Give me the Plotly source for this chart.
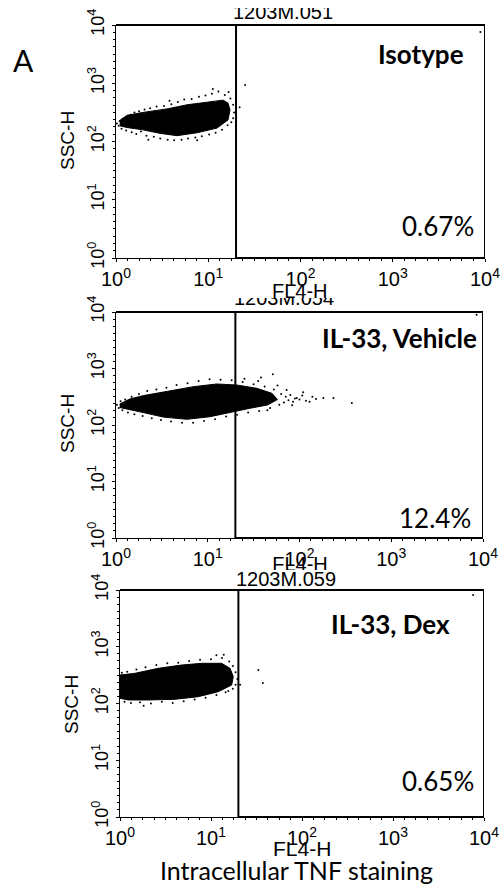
import plotly.graph_objects as go

W, H = 503, 888

# ---------------- data (log10 units of FL4-H / SSC-H) ----------------
gate_fl4 = 20.0  # gate threshold on FL4-H

p1_core_lx = [0.040, 0.120, 0.293, 0.553, 0.770, 0.986, 1.160, 1.214, 1.236, 1.214, 1.095, 0.878, 0.661, 0.477, 0.293, 0.119, 0.040]
p1_core_ly = [2.36, 2.45, 2.50, 2.56, 2.63, 2.68, 2.71, 2.66, 2.54, 2.37, 2.23, 2.15, 2.10, 2.14, 2.20, 2.24, 2.27]
p1_dots = [(0.01, 2.31), (0.03, 2.27), (0.04, 2.35), (0.06, 2.22), (0.07, 2.39), (0.09, 2.30), (0.11, 2.19),
           (0.13, 2.42), (0.16, 2.46), (0.17, 2.16), (0.20, 2.50), (0.22, 2.13), (0.25, 2.52), (0.27, 2.17),
           (0.31, 2.55), (0.33, 2.10), (0.37, 2.57), (0.41, 2.08), (0.44, 2.60), (0.48, 2.05), (0.52, 2.61),
           (0.56, 2.03), (0.60, 2.64), (0.63, 2.02), (0.67, 2.68), (0.71, 2.03), (0.74, 2.72), (0.78, 2.05),
           (0.82, 2.73), (0.86, 2.07), (0.90, 2.77), (0.93, 2.09), (0.97, 2.79), (1.01, 2.12), (1.04, 2.82),
           (1.08, 2.15), (1.11, 2.86), (1.15, 2.20), (1.18, 2.80), (1.21, 2.28), (1.24, 2.74), (1.27, 2.63),
           (1.28, 2.50), (1.27, 2.40), (1.25, 2.33), (0.58, 2.70), (0.35, 2.03), (0.88, 2.02), (1.05, 2.90),
           (1.22, 2.85), (1.34, 2.59), (1.40, 2.97), (3.95, 3.88)]

p2_core_lx = [0.040, 0.150, 0.298, 0.553, 0.843, 1.098, 1.316, 1.534, 1.700, 1.760, 1.650, 1.460, 1.278, 1.025, 0.771, 0.516, 0.298, 0.117, 0.040]
p2_core_ly = [2.37, 2.46, 2.52, 2.60, 2.678, 2.726, 2.708, 2.650, 2.560, 2.450, 2.354, 2.296, 2.235, 2.147, 2.101, 2.140, 2.220, 2.280, 2.310]
p2_dots = [(0.01, 2.36), (0.03, 2.30), (0.05, 2.42), (0.07, 2.26), (0.10, 2.45), (0.13, 2.22), (0.17, 2.50),
           (0.20, 2.19), (0.25, 2.55), (0.29, 2.16), (0.34, 2.60), (0.39, 2.12), (0.44, 2.63), (0.49, 2.09),
           (0.55, 2.66), (0.60, 2.06), (0.66, 2.71), (0.72, 2.04), (0.78, 2.74), (0.84, 2.04), (0.90, 2.78),
           (0.96, 2.07), (1.02, 2.81), (1.08, 2.10), (1.14, 2.80), (1.20, 2.15), (1.26, 2.79), (1.32, 2.18),
           (1.38, 2.76), (1.44, 2.22), (1.50, 2.72), (1.56, 2.25), (1.62, 2.68), (1.68, 2.30), (1.72, 2.63),
           (1.78, 2.36), (1.80, 2.55), (1.83, 2.40), (1.85, 2.50), (1.88, 2.44), (1.90, 2.53), (1.93, 2.41),
           (1.95, 2.47), (1.97, 2.48), (2.00, 2.45), (2.03, 2.52), (2.04, 2.58), (2.07, 2.43), (2.11, 2.41),
           (2.14, 2.50), (2.18, 2.46), (2.26, 2.48), (2.37, 2.48), (2.57, 2.39), (1.71, 2.90), (1.58, 2.84),
           (1.45, 2.33), (1.40, 2.82), (3.93, 3.95), (1.86, 2.62), (1.76, 2.70), (1.92, 2.35), (1.65, 2.26),
           (1.55, 2.78)]

p3_core_lx = [0.0, 0.165, 0.421, 0.678, 0.898, 1.117, 1.209, 1.245, 1.227, 1.080, 0.860, 0.604, 0.311, 0.091, 0.0]
p3_core_ly = [2.502, 2.532, 2.620, 2.678, 2.708, 2.708, 2.620, 2.473, 2.326, 2.208, 2.120, 2.074, 2.062, 2.062, 2.092]
p3_dots = [(0.02, 2.54), (0.05, 2.03), (0.08, 2.56), (0.12, 2.01), (0.18, 2.60), (0.22, 2.02), (0.28, 2.64),
           (0.34, 2.00), (0.40, 2.68), (0.46, 2.03), (0.52, 2.71), (0.58, 2.01), (0.64, 2.72), (0.70, 2.04),
           (0.76, 2.75), (0.82, 2.07), (0.88, 2.77), (0.94, 2.10), (1.00, 2.78), (1.06, 2.15), (1.12, 2.80),
           (1.16, 2.20), (1.20, 2.74), (1.24, 2.66), (1.27, 2.55), (1.29, 2.43), (1.27, 2.33), (1.24, 2.26),
           (1.19, 2.22), (0.26, 1.96), (1.06, 2.85), (1.14, 2.86), (1.32, 2.33), (1.52, 2.59), (1.57, 2.36),
           (3.88, 3.91)]

panel_labels = ["Isotype", "IL-33, Vehicle", "IL-33, Dex"]
panel_pcts = ["0.67%", "12.4%", "0.65%"]
file_names = ["1203M.051", "1203M.054", "1203M.059"]
tick_vals = [1, 10, 100, 1000, 10000]
tick_text = ["10<sup>0</sup>", "10<sup>1</sup>", "10<sup>2</sup>", "10<sup>3</sup>", "10<sup>4</sup>"]
axis_min, axis_max = 1, 10000

# ---------------- layout helpers ----------------
ARIAL = "Liberation Sans, Arial, sans-serif"
CALIBRI = "Lato, Open Sans, sans-serif"

def px(x):
    return x / W

def py(y):
    return 1 - y / H

# minor tick marks along the axes (instrument-style dotted axis)
minor_vals = [10 ** (k / 8) for k in range(1, 32) if k % 8 != 0]

# pixel boxes of the three plot areas: (left, right, top, bottom)
boxes = [(116, 485, 25, 258), (116, 483, 312, 538), (120, 484, 590, 817)]
cores = [(p1_core_lx, p1_core_ly), (p2_core_lx, p2_core_ly), (p3_core_lx, p3_core_ly)]
dots = [p1_dots, p2_dots, p3_dots]

fig = go.Figure()
layout = dict(width=W, height=H, margin=dict(l=0, r=0, t=0, b=0, autoexpand=False),
              paper_bgcolor="white", plot_bgcolor="white", showlegend=False)

annotations = []
shapes = []

for i in range(3):
    sfx = "" if i == 0 else str(i + 1)
    xa, ya = "x" + sfx, "y" + sfx
    l, r, t, b = boxes[i]
    axis_common = dict(type="log", range=[0, 4], showgrid=False, zeroline=False, automargin=False,
                       showline=True, linecolor="black", linewidth=1,
                       ticks="outside", ticklen=3, tickcolor="black", tickwidth=1,
                       tickvals=tick_vals, ticktext=tick_text,
                       minor=dict(ticks="outside", ticklen=2, tickcolor="black", tickvals=minor_vals,
                                  showgrid=False),
                       fixedrange=True)
    layout["xaxis" + sfx] = dict(axis_common, domain=[px(l), px(r)], anchor=ya,
                                 tickfont=dict(family=ARIAL, size=20, color="black"),
                                 tickangle=0, ticklabelstandoff=0)
    layout["yaxis" + sfx] = dict(axis_common, domain=[py(b), py(t)], anchor=xa,
                                 tickfont=dict(family=ARIAL, size=18, color="black"),
                                 tickangle=-90, ticklabelstandoff=1)

    lx, ly = cores[i]
    fig.add_trace(go.Scatter(x=[10 ** v for v in lx], y=[10 ** v for v in ly],
                             mode="lines", fill="toself", fillcolor="black",
                             line=dict(color="black", width=1),
                             xaxis=xa, yaxis=ya, hoverinfo="skip"))
    fig.add_trace(go.Scatter(x=[10 ** d[0] for d in dots[i]], y=[10 ** d[1] for d in dots[i]],
                             mode="markers", marker=dict(color="black", size=2, line=dict(width=0)),
                             xaxis=xa, yaxis=ya, hoverinfo="skip"))

    # top border of the plot
    shapes.append(dict(type="line", xref=xa + " domain", yref=ya + " domain",
                       x0=0, x1=1, y0=1, y1=1, line=dict(color="black", width=2)))
    # gate rectangle
    shapes.append(dict(type="rect", xref=xa, yref=ya, x0=gate_fl4, x1=axis_max, y0=axis_min, y1=axis_max,
                       line=dict(color="black", width=2), fillcolor="rgba(0,0,0,0)"))

# ---------------- text ----------------
def ann(text, x, y, size, family=CALIBRI, xanchor="center", angle=0, bold=False):
    if bold:
        text = "<b>" + text + "</b>"
    annotations.append(dict(text=text, x=px(x), y=py(y), xref="paper", yref="paper",
                            xanchor=xanchor, yanchor="middle", showarrow=False, textangle=angle,
                            font=dict(family=family, size=size, color="black")))

ann("A", 23, 60, 30)
ann(panel_labels[0], 466, 54, 26, bold=True, xanchor="right")
ann(panel_labels[1], 479, 338, 26, bold=True, xanchor="right")
ann(panel_labels[2], 452, 624, 26, bold=True, xanchor="right")
ann(panel_pcts[0], 476, 226, 26, xanchor="right")
ann(panel_pcts[1], 473, 518, 26, xanchor="right")
ann(panel_pcts[2], 476, 781, 26, xanchor="right")

for yc, xc in [(141, 67), (424, 67), (705, 71)]:
    ann("SSC-H", xc, yc, 19, family=ARIAL, angle=-90)

ann("FL4-H", 300, 291, 20, family=ARIAL)
ann(file_names[2], 286, 579, 20, family=ARIAL)
ann("FL4-H", 302, 848, 21, family=ARIAL)
ann("Intracellular TNF staining", 296, 870, 25)

# labels that are partly cut off in the figure: drawn in clipped strips
strips = [(file_names[0], 283, 14, 8, 24), (file_names[1], 284, 300, 298, 308), ("FL4-H", 300, 566, 557, 570)]
for k, (txt, cx, cy, top, bot) in enumerate(strips):
    n = str(4 + k)
    layout["xaxis" + n] = dict(domain=[0, 1], range=[0, W], visible=False, fixedrange=True,
                               anchor="y" + n, automargin=False)
    layout["yaxis" + n] = dict(domain=[py(bot), py(top)], range=[H - bot, H - top], visible=False,
                               fixedrange=True, anchor="x" + n, automargin=False)
    fig.add_trace(go.Scatter(x=[cx], y=[H - cy], mode="text", text=[txt], textposition="middle center",
                             textfont=dict(family=ARIAL, size=20, color="black"), cliponaxis=True,
                             xaxis="x" + n, yaxis="y" + n, hoverinfo="skip"))

layout["annotations"] = annotations
layout["shapes"] = shapes
fig.update_layout(**layout)
fig.write_html("out.html", config={"displayModeBar": False},
               post_script="document.body.style.margin='0';document.body.style.overflow='hidden';")
